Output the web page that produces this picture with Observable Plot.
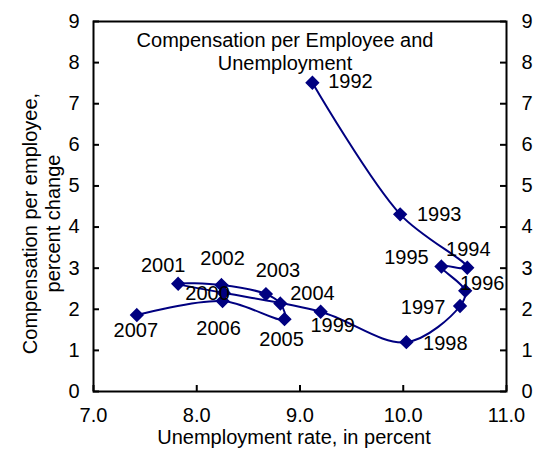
<!DOCTYPE html>
<html>
<head>
<meta charset="utf-8">
<script src="https://cdn.jsdelivr.net/npm/d3@7"></script>
<script src="https://cdn.jsdelivr.net/npm/@observablehq/plot@0.6"></script>
<style>
  html, body { margin: 0; padding: 0; background: #fff; }
</style>
</head>
<body>
<div id="chart"></div>
<script>
// ---- data ----
const years = [1992, 1993, 1994, 1995, 1996, 1997, 1998, 1999, 2000, 2001, 2002, 2003, 2004, 2005, 2006, 2007];
const unemployment = [9.12, 9.97, 10.62, 10.37, 10.60, 10.55, 10.03, 9.20, 8.26, 7.82, 8.24, 8.67, 8.81, 8.85, 8.25, 7.42];
const compensation = [7.51, 4.31, 3.01, 3.04, 2.45, 2.08, 1.20, 1.94, 2.40, 2.62, 2.59, 2.37, 2.14, 1.76, 2.20, 1.86];
const xTicks = [7, 8, 9, 10, 11];
const yTicks = [0, 1, 2, 3, 4, 5, 6, 7, 8, 9];
const chartTitle = "Compensation per Employee and\nUnemployment";
const xLabel = "Unemployment rate, in percent";
const yLabel = "Compensation per employee,\npercent change";

// ---- styling: label placement relative to each point (pixels) ----
const labelOffset = {
  1992: [38, -1], 1993: [39, 0], 1994: [1, -18], 1995: [-35, -9],
  1996: [17, -7], 1997: [-37, 2], 1998: [39, 1], 1999: [12, 14],
  2000: [-16, 1], 2001: [-15, -18], 2002: [1, -26], 2003: [12, -23],
  2004: [32, -10], 2005: [-3, 20], 2006: [-4, 28], 2007: [-1, 16]
};

const table = years.map((yr, i) => ({year: yr, x: unemployment[i], y: compensation[i]}));

const W = 534, H = 456;
const mL = 93, mR = 28, mT = 21, mB = 65;
const plotW = W - mL - mR, plotH = H - mT - mB;
const navy = "#000080";

const labelMarks = table.map(d => Plot.text([d], {
  x: "x", y: "y", text: r => String(r.year),
  dx: labelOffset[d.year][0], dy: labelOffset[d.year][1],
  fill: "black", fontSize: 20, textAnchor: "middle", lineAnchor: "middle"
}));

const chart = Plot.plot({
  width: W, height: H,
  marginLeft: mL, marginRight: mR, marginTop: mT, marginBottom: mB,
  style: {fontFamily: "'Liberation Sans', Arial, sans-serif", fontSize: "20px", color: "black", background: "white"},
  x: {domain: [7, 11], label: null},
  y: {domain: [0, 9], label: null},
  marks: [
    Plot.frame({stroke: "black", strokeWidth: 2}),
    Plot.tickX(xTicks, {x: d => d, insetTop: plotH - 6, stroke: "black", strokeWidth: 2}),
    Plot.tickY(yTicks, {y: d => d, insetRight: plotW - 6, stroke: "black", strokeWidth: 2}),
    Plot.tickY(yTicks, {y: d => d, insetLeft: plotW - 6, stroke: "black", strokeWidth: 2}),
    Plot.axisX({ticks: xTicks, tickFormat: d => d.toFixed(1), tickSize: 0, tickPadding: 16, label: null, fontSize: 20}),
    Plot.axisY({anchor: "left", ticks: yTicks, tickFormat: d => String(d), tickSize: 0, tickPadding: 14, label: null, fontSize: 20}),
    Plot.axisY({anchor: "right", ticks: yTicks, tickFormat: d => String(d), tickSize: 0, tickPadding: 15, label: null, fontSize: 20}),
    Plot.line(table, {x: "x", y: "y", curve: "catmull-rom", stroke: navy, strokeWidth: 2}),
    Plot.dot(table, {x: "x", y: "y", symbol: "diamond2", r: 5.5, fill: navy, stroke: navy}),
    ...labelMarks,
    Plot.text([chartTitle], {frameAnchor: "top", text: d => d, dx: -15, dy: 9, lineAnchor: "top", lineHeight: 1.15, fontSize: 20, fill: "black"}),
    Plot.text([xLabel], {frameAnchor: "bottom", text: d => d, dx: -6, dy: 46, lineAnchor: "middle", fontSize: 20, fill: "black"}),
    Plot.text([yLabel], {frameAnchor: "left", text: d => d, rotate: -90, dx: -52, dy: 17, textAnchor: "middle", lineAnchor: "middle", lineHeight: 1.15, fontSize: 20, fill: "black"})
  ]
});
document.getElementById("chart").appendChild(chart);
</script>
</body>
</html>
